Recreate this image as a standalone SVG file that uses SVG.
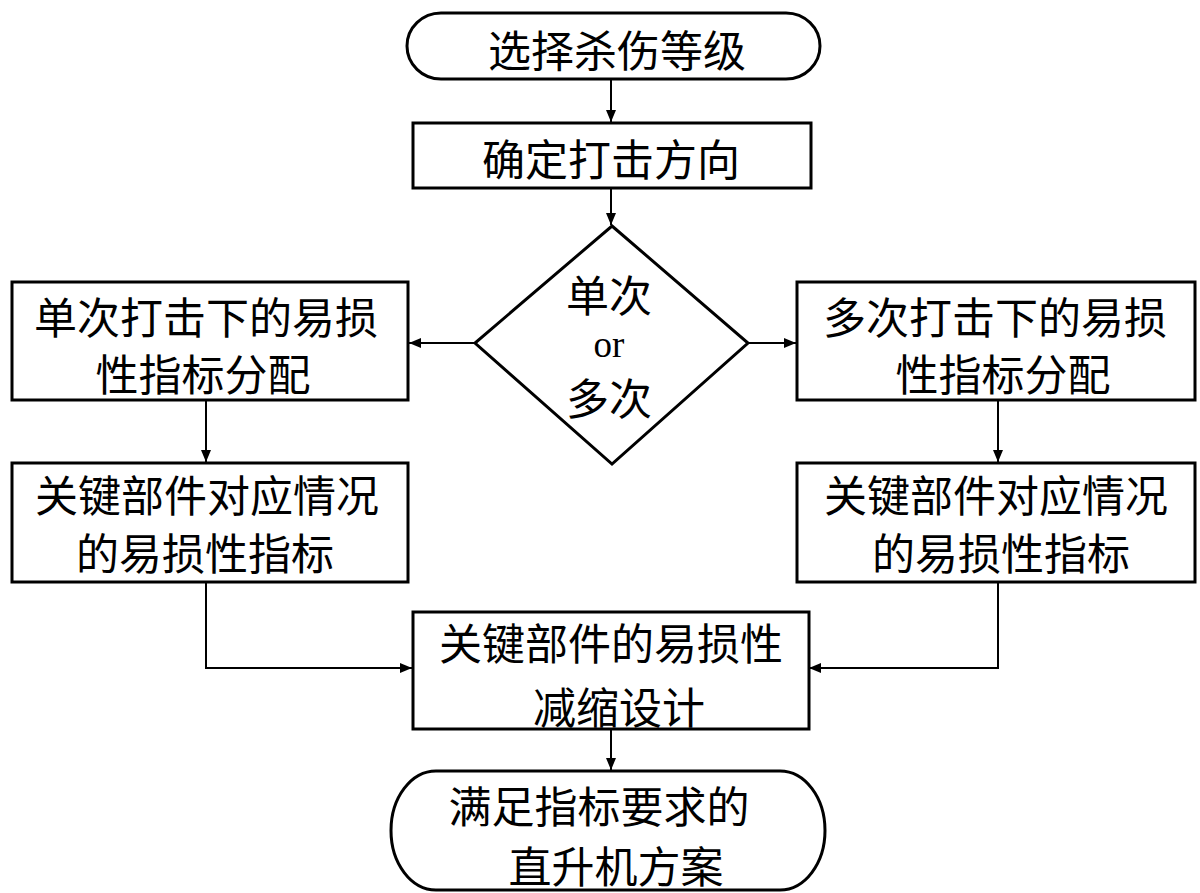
<svg xmlns="http://www.w3.org/2000/svg" width="1200" height="893" viewBox="0 0 1200 893">
<style>
.s{fill:#fff;stroke:#000;stroke-width:3}
.t{font-family:"Noto Sans CJK SC","Noto Sans CJK JP",sans-serif;font-size:43px;fill:#000;text-anchor:middle;dominant-baseline:central}
.d{font-family:"Noto Sans CJK SC","Noto Sans CJK JP",sans-serif;font-size:43px;fill:#000;text-anchor:middle}
.e{font-family:"Liberation Serif",serif;font-size:37px}
.c{fill:none;stroke:#000;stroke-width:2}
</style>
<defs>
<marker id="a" viewBox="0 0 12 10" refX="12" refY="5" markerWidth="12" markerHeight="10" markerUnits="userSpaceOnUse" orient="auto">
<path d="M0,0 L12,5 L0,10 Z" fill="#000"/>
</marker>
</defs>
<rect width="1200" height="893" fill="#fff"/>
<g id="connectors">
<line class="c" x1="611" y1="79" x2="611" y2="122" marker-end="url(#a)"/>
<line class="c" x1="611" y1="188" x2="611" y2="225" marker-end="url(#a)"/>
<line class="c" x1="475" y1="343" x2="409" y2="343" marker-end="url(#a)"/>
<line class="c" x1="748" y1="343" x2="796" y2="343" marker-end="url(#a)"/>
<line class="c" x1="206" y1="400" x2="206" y2="462" marker-end="url(#a)"/>
<line class="c" x1="998" y1="400" x2="998" y2="462" marker-end="url(#a)"/>
<polyline class="c" points="206,582 206,668 412,668" marker-end="url(#a)"/>
<polyline class="c" points="998,582 998,668 809,668" marker-end="url(#a)"/>
<line class="c" x1="611" y1="729" x2="611" y2="770" marker-end="url(#a)"/>
</g>
<g id="start">
<rect class="s" x="407" y="13" width="413" height="66" rx="34" ry="33"/>
<text class="t" x="617" y="48">选择杀伤等级</text>
</g>
<g id="direction">
<rect class="s" x="413" y="123" width="398" height="65"/>
<text class="t" x="611" y="157">确定打击方向</text>
</g>
<g id="decision">
<polygon class="s" points="612,226 748,343 612,464 475,343"/>
<text class="d"><tspan x="609" y="312">单次</tspan><tspan class="e" x="609" y="357">or</tspan><tspan x="609" y="415">多次</tspan></text>
</g>
<g id="single">
<rect class="s" x="12" y="282" width="396" height="118"/>
<text class="t" x="206" y="315">单次打击下的易损</text>
<text class="t" x="203" y="372">性指标分配</text>
</g>
<g id="single-key">
<rect class="s" x="12" y="463" width="396" height="119"/>
<text class="t" x="207" y="493">关键部件对应情况</text>
<text class="t" x="205" y="551">的易损性指标</text>
</g>
<g id="multi">
<rect class="s" x="797" y="282" width="398" height="118"/>
<text class="t" x="995" y="315">多次打击下的易损</text>
<text class="t" x="1003" y="372">性指标分配</text>
</g>
<g id="multi-key">
<rect class="s" x="797" y="463" width="398" height="119"/>
<text class="t" x="996" y="493">关键部件对应情况</text>
<text class="t" x="1001" y="551">的易损性指标</text>
</g>
<g id="reduce">
<rect class="s" x="413" y="612" width="396" height="117"/>
<text class="t" x="611" y="641">关键部件的易损性</text>
<text class="t" x="619" y="705">减缩设计</text>
</g>
<g id="end">
<path class="s" d="M436,771 L780,771 A45,59.5 0 0 1 780,890 L436,890 A45,59.5 0 0 1 436,771 Z"/>
<text class="t" x="599" y="804">满足指标要求的</text>
<text class="t" x="616" y="864">直升机方案</text>
</g>
</svg>
